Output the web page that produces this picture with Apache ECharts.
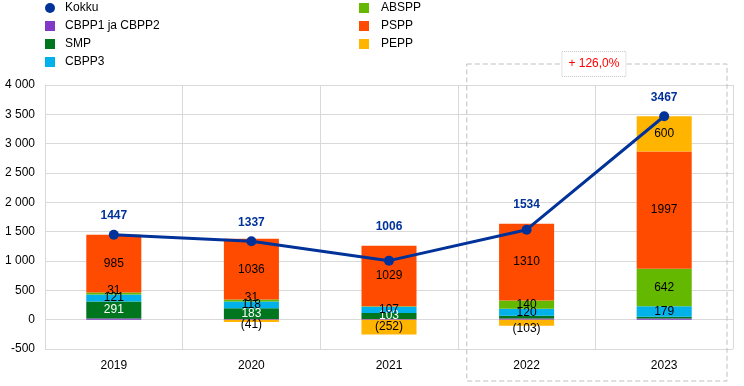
<!DOCTYPE html>
<html>
<head>
<meta charset="utf-8">
<script src="https://cdn.jsdelivr.net/npm/echarts@6/dist/echarts.min.js"></script>
<style>
html,body{margin:0;padding:0;background:#fff;}
#c{width:744px;height:386px;}
</style>
</head>
<body>
<div id="c"></div>
<script>
var categories = ['2019', '2020', '2021', '2022', '2023'];
var kokku  = [1447, 1337, 1006, 1534, 3467];
var cbpp12 = [19, 10, 10, 22, 19];
var smp    = [291, 183, 103, 45, 30];
var cbpp3  = [121, 118, 107, 120, 179];
var abspp  = [31, 31, 9, 140, 642];
var pspp   = [985, 1036, 1029, 1310, 1997];
var pepp   = [0, -41, -252, -103, 600];
var yTicks = [-500, 0, 500, 1000, 1500, 2000, 2500, 3000, 3500, 4000];
var annotationText = '+ 126,0%';

var FONT = '"Liberation Sans", Arial, sans-serif';
var colors = {
  kokku: '#003299', cbpp12: '#8139c6', smp: '#00771f', cbpp3: '#00b1ea',
  abspp: '#65b800', pspp: '#ff4b00', pepp: '#ffb400'
};

function fmtNum(v) {
  return v < 0 ? '(' + Math.abs(v) + ')' : String(v);
}
function barSeries(name, data, color, minLabel, labelColor) {
  return {
    name: name, type: 'bar', stack: 'tot', barWidth: '40%',
    itemStyle: { color: color },
    data: data.map(function (v) {
      var item = { value: v };
      var lbl = { show: Math.abs(v) >= minLabel };
      if (name === 'PEPP' && v < 0 && Math.abs(v) < 150) {
        lbl.position = 'bottom'; lbl.distance = -3;
      }
      if (name === 'ABSPP' && v < 50) { lbl.offset = [0, -3]; }
      item.label = lbl;
      return item;
    }),
    label: {
      show: true, position: 'inside', color: labelColor || '#000',
      fontFamily: FONT, fontSize: 12,
      formatter: function (p) { return fmtNum(p.value); }
    },
    emphasis: { disabled: true }
  };
}

// positive stack top per category (used to lift total labels clear of bars)
var stackTop = categories.map(function (_, i) {
  return [cbpp12, smp, cbpp3, abspp, pspp, pepp].reduce(function (s, arr) {
    return s + Math.max(arr[i], 0);
  }, 0);
});

var chart = echarts.init(document.getElementById('c'), null, { renderer: 'canvas' });
var legendText = { fontFamily: FONT, fontSize: 12, color: '#000' };
var option = {
  animation: false,
  backgroundColor: '#fff',
  textStyle: { fontFamily: FONT },
  legend: [{
    left: 45, top: 2, padding: 0, orient: 'vertical', itemWidth: 10, itemHeight: 10, itemGap: 6,
    textStyle: Object.assign({ padding: [0, 0, 0, 5] }, legendText),
    data: [
      { name: 'Kokku', icon: 'circle' },
      { name: 'CBPP1 ja CBPP2', icon: 'rect' },
      { name: 'SMP', icon: 'rect' },
      { name: 'CBPP3', icon: 'rect' }
    ],
    selectedMode: false
  }, {
    left: 359, top: 2, padding: 0, orient: 'vertical', itemWidth: 10, itemHeight: 10, itemGap: 6,
    textStyle: Object.assign({ padding: [0, 0, 0, 7] }, legendText),
    data: [
      { name: 'ABSPP', icon: 'rect' },
      { name: 'PSPP', icon: 'rect' },
      { name: 'PEPP', icon: 'rect' }
    ],
    selectedMode: false
  }],
  grid: { left: 45, right: 11, top: 85, bottom: 37, containLabel: false },
  xAxis: {
    type: 'category', data: categories,
    axisLine: { show: false },
    axisTick: { show: false },
    axisLabel: { color: '#000', fontFamily: FONT, fontSize: 12, margin: 11 },
    splitLine: { show: true, interval: 0, lineStyle: { color: '#d9d9d9', width: 1 } }
  },
  yAxis: {
    type: 'value', min: yTicks[0], max: yTicks[yTicks.length - 1], interval: 500,
    axisLine: { show: true, lineStyle: { color: '#d9d9d9' } },
    axisTick: { show: false },
    axisLabel: {
      color: '#000', fontFamily: FONT, fontSize: 12, margin: 10,
      formatter: function (v) {
        var s = String(Math.abs(v)).replace(/\B(?=(\d{3})+(?!\d))/g, ' ');
        return (v < 0 ? '-' : '') + s;
      }
    },
    splitLine: { show: true, lineStyle: { color: '#d9d9d9', width: 1 } }
  },
  series: [
    barSeries('CBPP1 ja CBPP2', cbpp12, colors.cbpp12, 1e9),
    barSeries('SMP', smp, colors.smp, 100, '#fff'),
    barSeries('CBPP3', cbpp3, colors.cbpp3, 50),
    barSeries('ABSPP', abspp, colors.abspp, 20),
    barSeries('PSPP', pspp, colors.pspp, 50),
    barSeries('PEPP', pepp, colors.pepp, 20),
    {
      name: 'Kokku', type: 'line', data: kokku, z: 5,
      symbol: 'circle', symbolSize: 10,
      lineStyle: { color: colors.kokku, width: 3 },
      itemStyle: { color: colors.kokku },
      label: {
        show: true, position: 'top', distance: 8, color: colors.kokku,
        fontWeight: 'bold', fontFamily: FONT, fontSize: 12
      },
      emphasis: { disabled: true }
    }
  ]
};
chart.setOption(option);

// lift total labels above the bar when the bar rises above the total point
var lineData = kokku.map(function (v, i) {
  var item = { value: v };
  if (stackTop[i] > v + 50) {
    var py = chart.convertToPixel({ yAxisIndex: 0 }, v);
    var ty = chart.convertToPixel({ yAxisIndex: 0 }, stackTop[i]);
    item.label = { offset: [0, ty - py] };
  }
  return item;
});

// annotation box around the last two categories
var c22 = chart.convertToPixel({ xAxisIndex: 0 }, categories[3]);
var c23 = chart.convertToPixel({ xAxisIndex: 0 }, categories[4]);
var step = c23 - c22;
var boxL = c22 - step / 2 + 9;
var boxR = c23 + step / 2 - 6;
var boxT = 64, boxB = 381;
var annW = 64, annH = 25;
var annX = (boxL + boxR) / 2 - annW / 2 - 3;
chart.setOption({
  series: [{}, {}, {}, {}, {}, {}, { data: lineData }],
  graphic: [
    {
      type: 'rect', z: 0, silent: true,
      shape: { x: boxL, y: boxT, width: boxR - boxL, height: boxB - boxT },
      style: { fill: 'none', stroke: '#bfbfbf', lineWidth: 1, lineDash: [5, 3] }
    },
    {
      type: 'rect', z: 10, silent: true,
      shape: { x: annX, y: boxT - annH / 2, width: annW, height: annH },
      style: { fill: '#fff', stroke: '#c8c8c8', lineWidth: 1, lineDash: [1, 1] }
    },
    {
      type: 'text', z: 11, silent: true,
      x: annX + annW / 2, y: boxT,
      style: {
        text: annotationText, fill: '#ff0000', font: '12px ' + FONT,
        align: 'center', verticalAlign: 'middle'
      }
    }
  ]
});
</script>
</body>
</html>
